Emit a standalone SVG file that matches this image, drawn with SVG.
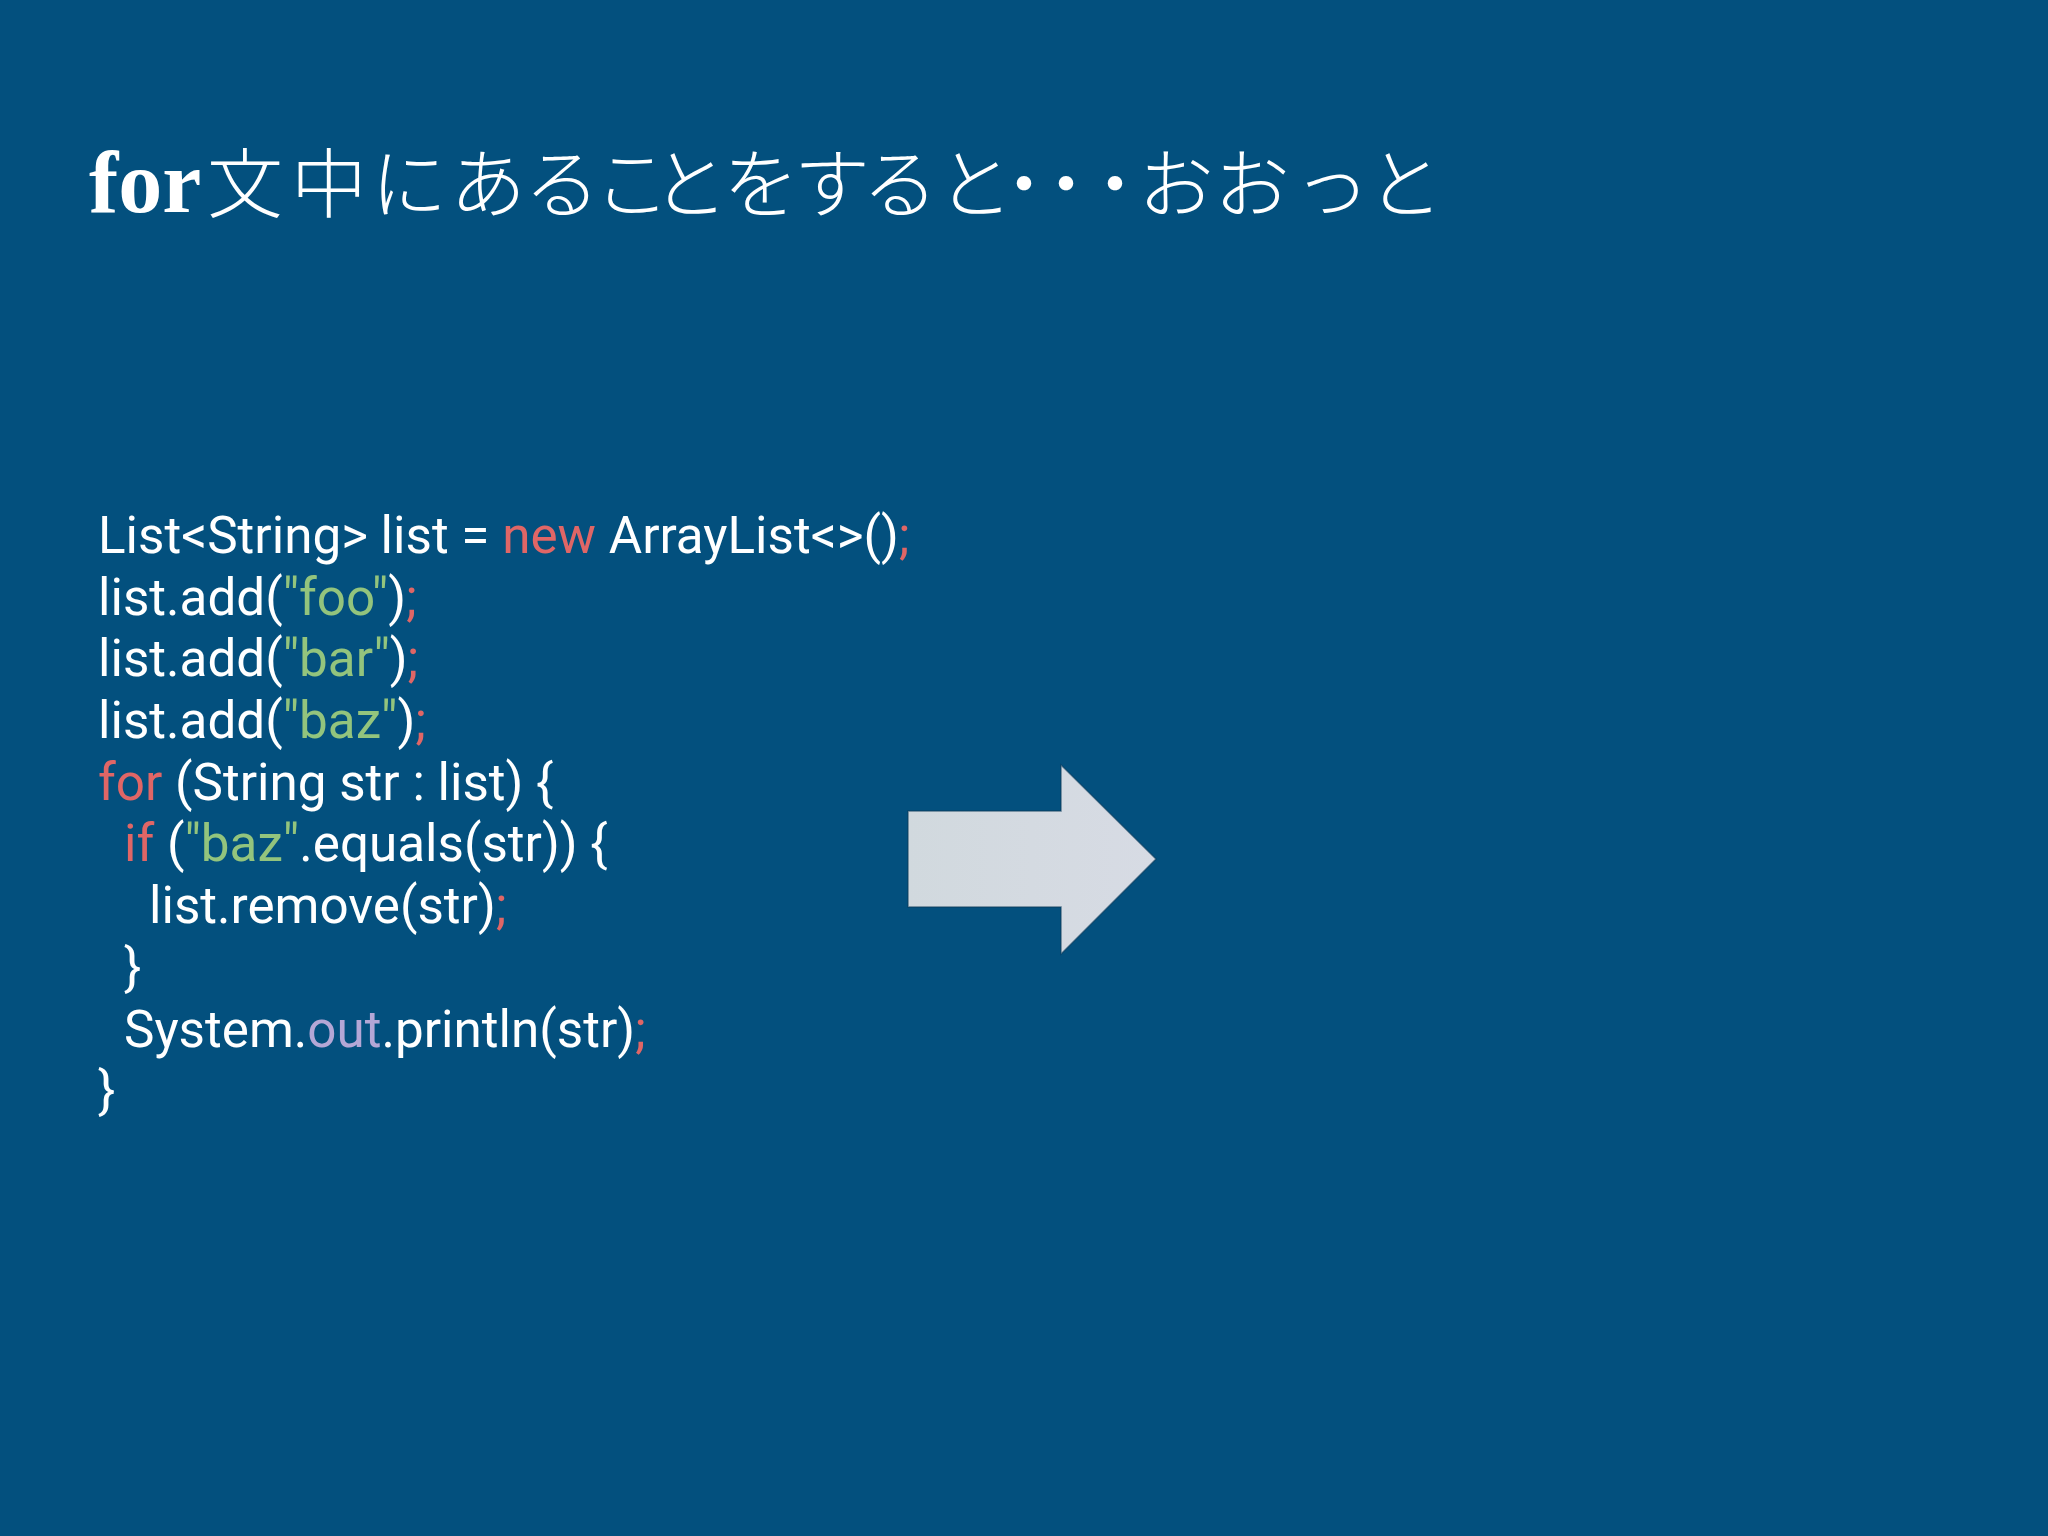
<svg xmlns="http://www.w3.org/2000/svg" width="2048" height="1536" viewBox="0 0 2048 1536">
  <style>
    .title-latin { font-family: "Liberation Serif", serif; font-weight: bold; font-size: 88px; fill: #ffffff; }
    .title-jp { font-family: "Noto Sans CJK JP", sans-serif; font-weight: 300; font-size: 76px; fill: #ffffff; }
    .code { font-family: Roboto, "Liberation Sans", sans-serif; font-size: 51.2px; fill: #ffffff; }
    .k { fill: #e06666; }
    .s { fill: #93c47d; }
    .p { fill: #b4a7d6; }
  </style>
  <defs>
    <linearGradient id="arrowFill" x1="0" y1="0" x2="1" y2="0">
      <stop offset="0" stop-color="#d1d9de"/>
      <stop offset="1" stop-color="#d7dbe4"/>
    </linearGradient>
  </defs>
  <rect id="background" x="0" y="0" width="2048" height="1536" fill="#03507e"/>

  <g id="title">
    <text class="title-latin" x="89" y="212">for</text>
    <text class="title-jp" y="212" x="207 291 371 450 524 594 652 723 794 862 937 986 1028 1077 1138 1214 1294 1367">文中にあることをすると・・・おおっと</text>
  </g>

  <g id="code" class="code">
    <text x="98" y="553">List&lt;String&gt; list = <tspan class="k">new</tspan> ArrayList&lt;&gt;()<tspan class="k">;</tspan></text>
    <text x="98" y="615">list.add(<tspan class="s">"foo"</tspan>)<tspan class="k">;</tspan></text>
    <text x="98" y="676">list.add(<tspan class="s">"bar"</tspan>)<tspan class="k">;</tspan></text>
    <text x="98" y="738">list.add(<tspan class="s">"baz"</tspan>)<tspan class="k">;</tspan></text>
    <text x="98" y="800"><tspan class="k">for</tspan> (String str : list) {</text>
    <text x="124" y="861"><tspan class="k">if</tspan> (<tspan class="s">"baz"</tspan>.equals(str)) {</text>
    <text x="149" y="923">list.remove(str)<tspan class="k">;</tspan></text>
    <text x="124" y="985">}</text>
    <text x="124" y="1047">System.<tspan class="p">out</tspan>.println(str)<tspan class="k">;</tspan></text>
    <text x="98" y="1108">}</text>
  </g>

  <g id="arrow">
    <polygon points="908,811 1061,811 1061,765 1156,859 1061,954 1061,907 908,907" fill="url(#arrowFill)" stroke="#0c3a5a" stroke-opacity="0.6" stroke-width="1.5"/>
  </g>
</svg>
